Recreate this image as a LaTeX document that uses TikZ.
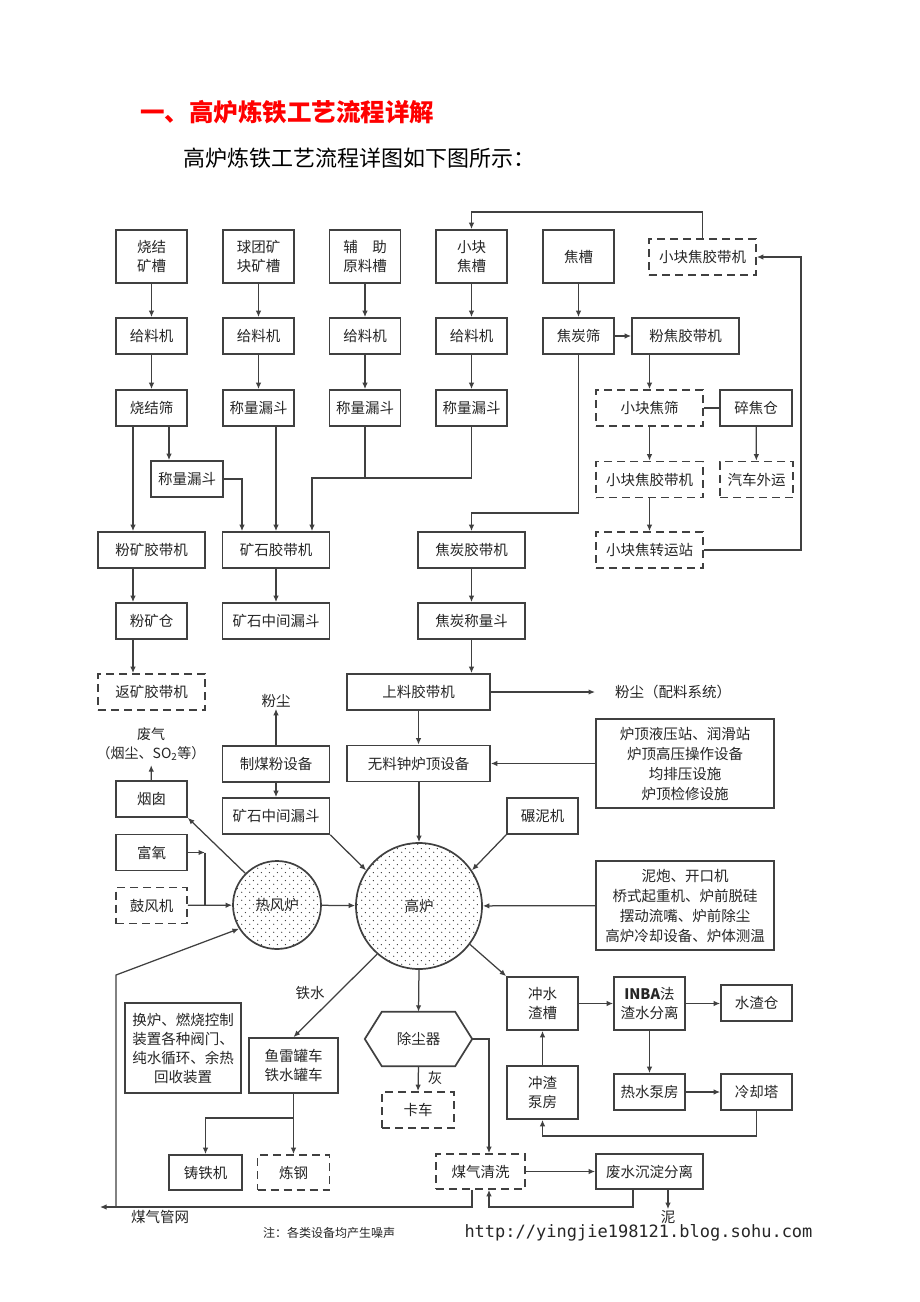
\documentclass[tikz,border=0pt]{standalone}
\usepackage{fontspec}
\setmainfont{Noto Sans CJK SC}
\newfontfamily\urlfont{DejaVu Sans Mono}
\usetikzlibrary{arrows.meta,patterns.meta}
\pgfdeclarepattern{
  name=stagdots,
  type=uncolored,
  bottom left={\pgfpointorigin},
  top right={\pgfpoint{8pt}{8pt}},
  tile size={\pgfpoint{8pt}{8pt}},
  code={\pgfpathcircle{\pgfpoint{2pt}{2pt}}{0.7pt}\pgfpathcircle{\pgfpoint{6pt}{6pt}}{0.7pt}\pgfusepath{fill}}
}
\begin{document}
\begin{tikzpicture}[x=1pt,y=-1pt,
  every node/.style={font=\fontsize{14.5}{19}\selectfont, text=black!85},
  box/.style={draw=black!75, line width=1.7pt, minimum width=71pt, minimum height=36pt, inner sep=0pt, align=center},
  dbox/.style={box, dash pattern=on 8pt off 5pt},
  wide/.style={minimum width=107pt},
  tall/.style={minimum height=53pt},
  boxline/.style={draw=black!75, line width=1.7pt, line join=miter},
  arr/.style={draw=black!75, line width=1.25pt, -{Latex[length=6.5pt,width=5.5pt]}},
  ln/.style={draw=black!75, line width=1.25pt},
  lbl/.style={inner sep=1pt, align=center},
  furnace/.style={circle, draw=black!75, line width=1.7pt, inner sep=0pt, pattern=stagdots, pattern color=black!80}
]
\fill[white] (0,0) rectangle (920,1302);
\useasboundingbox (0,0) rectangle (920,1302);

% titles
\node[lbl, anchor=west, text=red, font=\fontsize{24.5}{28}\selectfont\bfseries] (title) at (139,112) {一、高炉炼铁工艺流程详解};
\node[lbl, anchor=west, text=black, font=\fontsize{22}{26}\selectfont] (sub) at (182,158) {高炉炼铁工艺流程详图如下图所示：};

% row A
\node[box,tall] (A1) at (151.5,256.5) {烧结\\矿槽};
\node[box,tall] (A2) at (258.5,256.5) {球团矿\\块矿槽};
\node[box,tall] (A3) at (365,256.5) {辅　助\\原料槽};
\node[box,tall] (A4) at (471.5,256.5) {小块\\焦槽};
\node[box,tall] (A5) at (578.5,256.5) {焦槽};
\node[dbox,wide] (T1) at (702.5,257) {小块焦胶带机};
% row B
\node[box] (B1) at (151.5,336) {给料机};
\node[box] (B2) at (258.5,336) {给料机};
\node[box] (B3) at (365,336) {给料机};
\node[box] (B4) at (471.5,336) {给料机};
\node[box] (B5) at (578.5,336) {焦炭筛};
\node[box,wide] (B6) at (685.5,336) {粉焦胶带机};
% row C
\node[box] (C1) at (151.5,408) {烧结筛};
\node[box] (C2) at (258.5,408) {称量漏斗};
\node[box] (C3) at (365,408) {称量漏斗};
\node[box] (C4) at (471.5,408) {称量漏斗};
\node[dbox,wide] (C5) at (649.5,408) {小块焦筛};
\node[box,minimum width=72pt] (C6) at (756,408) {碎焦仓};
% row D
\node[box,minimum width=72pt] (D1) at (187,479) {称量漏斗};
\node[dbox,wide] (D2) at (649.5,479.5) {小块焦胶带机};
\node[dbox,minimum width=73pt] (D3) at (756.5,479.5) {汽车外运};
% row E
\node[box,wide] (E1) at (151.5,550) {粉矿胶带机};
\node[box,wide] (E2) at (276,550) {矿石胶带机};
\node[box,wide] (E3) at (471.5,550) {焦炭胶带机};
\node[dbox,wide] (E4) at (649.5,550) {小块焦转运站};
% row F
\node[box] (F1) at (151.5,621) {粉矿仓};
\node[box,wide] (F2) at (276,621) {矿石中间漏斗};
\node[box,wide] (F3) at (471.5,621) {焦炭称量斗};
% row G
\node[dbox,wide] (G1) at (151.5,692) {返矿胶带机};
\node[box,minimum width=143pt] (G2) at (418.5,692) {上料胶带机};
\node[lbl, anchor=west] (dust1) at (614,692) {粉尘（配料系统）};
\node[lbl] (dust2) at (276,701) {粉尘};
\node[lbl, font=\fontsize{14}{19}\selectfont] (waste) at (151,744.5) {废气\\（烟尘、SO\textsubscript{2}等）};
% row H
\node[box,wide] (H1) at (276,764) {制煤粉设备};
\node[box,minimum width=143pt] (H2) at (418.5,763.5) {无料钟炉顶设备};
\node[box,minimum width=178pt,minimum height=89pt,font=\fontsize{14.5}{20}\selectfont] (H3) at (685,763.5) {炉顶液压站、润滑站\\炉顶高压操作设备\\均排压设施\\炉顶检修设施};
% row I
\node[box] (I1) at (151.5,799) {烟囱};
\node[box,wide] (I2) at (276,816) {矿石中间漏斗};
\node[box] (I3) at (542.5,816) {碾泥机};
\node[box] (J1) at (151.5,852.5) {富氧};
\node[dbox] (J2) at (151.5,905.5) {鼓风机};
% furnaces
\node[furnace, minimum size=88pt] (HS) at (277,905) {热风炉};
\node[furnace, minimum size=126pt] (BF) at (419,906) {高炉};
\node[box,minimum width=178pt,minimum height=89pt,font=\fontsize{14.5}{20}\selectfont] (K) at (685,905.5) {泥炮、开口机\\桥式起重机、炉前脱硅\\摆动流嘴、炉前除尘\\高炉冷却设备、炉体测温};
% lower part
\node[box,minimum width=116pt,minimum height=90pt] (L1) at (183,1048) {换炉、燃烧控制\\装置各种阀门、\\纯水循环、余热\\回收装置};
\node[box,minimum width=89pt,minimum height=55pt] (L2) at (293.5,1065.5) {鱼雷罐车\\铁水罐车};
\node[lbl] (iron) at (310,993) {铁水};
\node[minimum width=107pt, minimum height=54pt, inner sep=0pt] (DC) at (418.5,1039) {除尘器};
\draw[boxline] (DC.west) -- ([xshift=17pt]DC.north west) -- ([xshift=-17pt]DC.north east) -- (DC.east) -- ([xshift=-17pt]DC.south east) -- ([xshift=17pt]DC.south west) -- cycle;
\node[lbl] (ash) at (435,1078) {灰};
\node[dbox,minimum width=72pt] (O1) at (418,1110) {卡车};
\node[box,tall] (M1) at (542.5,1003.5) {冲水\\渣槽};
\node[box,tall] (M2) at (649.5,1003.5) {\textbf{INBA}法\\渣水分离};
\node[box] (M3) at (756.5,1003) {水渣仓};
\node[box,tall] (N1) at (542.5,1092.5) {冲渣\\泵房};
\node[box] (N2) at (649.5,1092) {热水泵房};
\node[box] (N3) at (756.5,1092) {冷却塔};
\node[box,minimum width=73pt,minimum height=35pt] (P1) at (205.5,1172.5) {铸铁机};
\node[dbox,minimum width=72pt,minimum height=35pt] (P2) at (293.5,1172.5) {炼钢};
\node[dbox,minimum width=89pt,minimum height=35pt] (P3) at (480.5,1171.5) {煤气清洗};
\node[box,wide,minimum height=35pt] (P4) at (649.5,1171.5) {废水沉淀分离};
\node[lbl] (mud) at (668,1217) {泥};
\node[lbl] (gasnet) at (160,1217) {煤气管网};
\node[lbl, font=\fontsize{12}{14}\selectfont] (note) at (329,1233) {注：各类设备均产生噪声};
\node[lbl, font=\urlfont\fontsize{17}{19}\selectfont] (url) at (638.5,1233) {http://yingjie198121.blog.sohu.com};

% helper coordinates
\coordinate (topy) at (0,212);
\coordinate (rx) at (801,0);
\coordinate (cky) at (0,513);
\coordinate (j1) at (0,478);
\coordinate (e2r) at ([xshift=36pt]E2.north);
\coordinate (e2l) at ([xshift=-34pt]E2.north);
\coordinate (d1l) at ([xshift=-18pt]D1.north);
\coordinate (e1l) at ([xshift=-18.5pt]E1.north);
\coordinate (f1l) at ([xshift=-18.5pt]F1.north);
\coordinate (g1l) at ([xshift=-18.5pt]G1.north);
\coordinate (fy) at (205,852.5);
\coordinate (gp) at (100,1207);
\coordinate (gx) at (116,975);
\coordinate (p3l) at ([xshift=-8.5pt]P3.south);
\coordinate (p3r) at ([xshift=8.5pt]P3.north);
\coordinate (p3rs) at ([xshift=8.5pt]P3.south);
\coordinate (p4l) at ([xshift=-16.5pt]P4.south);
\coordinate (p4r) at ([xshift=18.5pt]P4.south);
\coordinate (sy) at (0,1118);
\coordinate (cy2) at (0,1136);

% top connectors
\draw[arr] (A1) -- (B1);
\draw[arr] (A2) -- (B2);
\draw[arr] (A3) -- (B3);
\draw[arr] (A4) -- (B4);
\draw[arr] (A5) -- (B5);
\draw[arr] (B1) -- (C1);
\draw[arr] (B2) -- (C2);
\draw[arr] (B3) -- (C3);
\draw[arr] (B4) -- (C4);
\draw[arr] (B5) -- (B6);
\draw[arr] (C5.north |- B6.south) -- (C5.north);
\draw[ln] (C5) -- (C6);
\draw[arr] (C5) -- (D2);
\draw[arr] (C6) -- (D3);
\draw[arr] (D2) -- (E4);
\draw[arr] (E4.east) -- (E4.east -| rx) |- (T1.east);
\draw[arr] (T1.north) -- (T1.north |- topy) -| (A4.north);
\draw[arr] (d1l |- C1.south) -- (d1l);
\draw[arr] (e1l |- C1.south) -- (e1l);
\draw[arr] (E2.north |- C2.south) -- (E2.north);
\draw[arr] (D1.east) -| (e2l);
\draw[ln] (C3.south) -- (C3.south |- j1);
\draw[arr] (C4.south) -- (C4.south |- j1) -| (e2r);
\draw[arr] (B5.south) -- (B5.south |- cky) -| (E3.north);
\draw[arr] (f1l |- E1.south) -- (f1l);
\draw[arr] (g1l |- F1.south) -- (g1l);
\draw[arr] (E2) -- (F2);
\draw[arr] (E3) -- (F3);
\draw[arr] (F3.south) -- (F3.south |- G2.north);
\draw[arr] (G2.east) -- ([xshift=-19pt]dust1.west);
\draw[arr] (G2) -- (H2);
\draw[arr] (H3) -- (H2);
\draw[arr] (H1) -- (dust2);
\draw[arr] (H1) -- (I2);
\draw[arr, shorten >=3pt] (I1) -- (waste);
% furnace connectors
\draw[arr] (BF.north |- H2.south) -- (BF.north);
\draw[arr] (I2.south east) -- (BF.146);
\draw[arr] (I3.south west) -- (BF.34);
\draw[arr] (K) -- (BF);
\draw[arr] (HS) -- (BF);
\draw[arr] (J2) -- (HS);
\draw[arr] (J1.east) -- (fy);
\draw[ln] (fy) -- (fy |- J2.east);
\draw[arr] (HS.135) -- (I1.south east);
\draw[arr] (p3l) |- (gp);
\draw[arr] (gx |- gp) -- (gx) -- (HS.212);
\draw[arr] (BF.229) -- (L2.north);
\draw[arr] (L2.south) -- (P2.north);
\draw[arr] (L2.south |- sy) -| (P1.north);
\draw[arr] (BF.south) -- (DC.north);
\draw[arr] (DC.south) -- (O1.north);
\draw[arr] (DC.east) -| (p3r);
\draw[arr] (P3) -- (P4);
\draw[arr] (p4l) |- (p3rs |- gp) -- (p3rs);
\draw[arr] (p4r) -- (p4r |- mud.north);
\draw[arr] (BF.-37) -- (M1.north west);
\draw[arr] (M1) -- (M2);
\draw[arr] (M2.east) -- (M3.west |- M2.east);
\draw[arr] (M2) -- (N2);
\draw[arr] (N2) -- (N3);
\draw[arr] (N1) -- (M1);
\draw[arr] (N3.south) -- (N3.south |- cy2) -| (N1.south);
\end{tikzpicture}
\end{document}
